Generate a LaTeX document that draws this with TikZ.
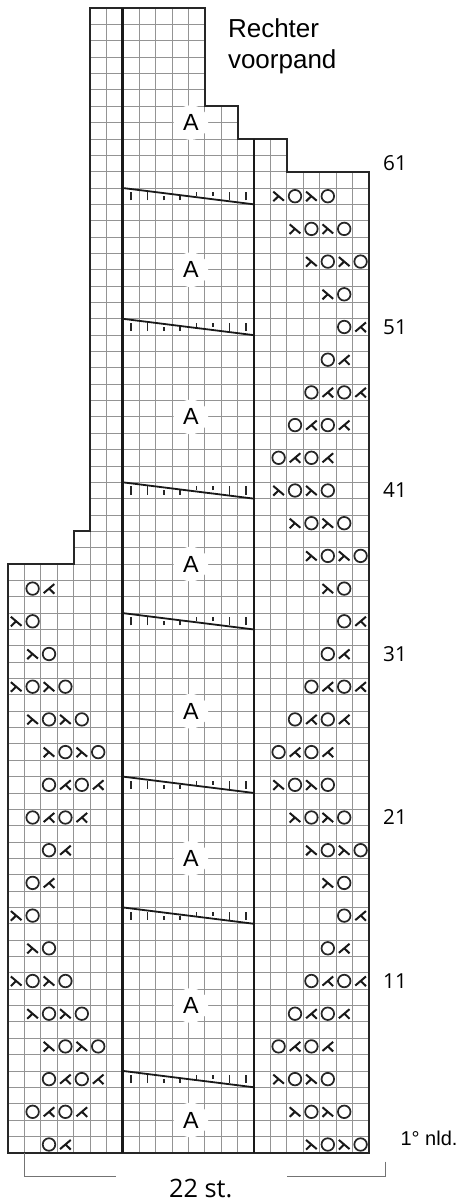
\documentclass[tikz,border=0pt]{standalone}
\usepackage{fontspec}
\setmainfont{Liberation Sans}
\newfontfamily\numfont{Open Sans}
\usepackage{tikz}

\tikzset{
    gridline/.style={draw=black!42, line width=0.65pt},
    outline/.style={draw=black!85, line width=1.35pt, line join=miter},
    heavyline/.style={draw=black!90, line width=2.1pt},
    slantline/.style={draw=black!90, line width=1.35pt},
    tickline/.style={draw=black!85, line width=1.2pt},
    bracket/.style={draw=black!55, line width=1pt},
    letterA/.style={circle, fill=white, minimum size=26pt, inner sep=0pt, font=\fontsize{17.5}{19}\selectfont},
    rowno/.style={font=\numfont\fontsize{15.5}{18}\selectfont, anchor=center},
    yo/.pic={\draw[black!85, line width=1.3pt] (0,0) circle (4.7pt);},
    kr/.pic={\draw[black!90, line width=1.5pt] (-4pt,3.4pt) -- (4pt,-3.4pt) (-4pt,-3.8pt) -- (0,0.1pt);},
    kl/.pic={\draw[black!90, line width=1.5pt] (4pt,3.4pt) -- (-4pt,-3.4pt) (4pt,-3.8pt) -- (0,0.1pt);},
}

\begin{document}
\begin{tikzpicture}[x=12.3pt, y=12.2625pt]
    \useasboundingbox (-0.488,-3.138) rectangle (27.56,70.5);

    \begin{scope}
        \clip (0,0) -- (22,0) -- (22,60) -- (17,60) -- (17,62) -- (14,62) -- (14,64) -- (12,64)
            -- (12,70) -- (5,70) -- (5,38) -- (4,38) -- (4,36) -- (0,36) -- cycle;
        \draw[gridline, step=1] (-1,-1) grid (23,71);
    \end{scope}

    \foreach \rw in {63,54,45,36,27,18,9,2}
        \node[letterA] (a\rw) at (11.15,\rw) {A};

    \draw[outline] (0,0) -- (22,0) -- (22,60) -- (17,60) -- (17,62) -- (14,62) -- (14,64) -- (12,64)
        -- (12,70) -- (5,70) -- (5,38) -- (4,38) -- (4,36) -- (0,36) -- cycle;
    \draw[heavyline] (7,0) -- (7,70);
    \draw[heavyline] (15,0) -- (15,62);

    \foreach \rw in {5,15,23,33,41,51,59} {
        \draw[slantline] (7,\rw) -- (15,\rw-1);
        \foreach \cx in {7.5,8.5,13.5,14.5}
            \draw[tickline] (\cx,\rw-.75) -- (\cx,\rw-.25);
        \foreach \cx in {9.5,10.5}
            \draw[tickline] (\cx,\rw-.75) -- (\cx,\rw-.5);
        \foreach \cx in {11.5,12.5}
            \draw[tickline] (\cx,\rw-.5) -- (\cx,\rw-.25);
    }

    \foreach \rw/\cx in {59/16,57/17,55/18,41/16,39/17,37/18,23/16,21/17,19/18,5/16,3/17,1/18,
                         7/2,9/1,11/0,25/2,27/1,29/0} {
        \pic at (\cx+.5,\rw-.5) {kr};
        \pic at (\cx+1.5,\rw-.5) {yo};
        \pic at (\cx+2.5,\rw-.5) {kr};
        \pic at (\cx+3.5,\rw-.5) {yo};
    }
    \foreach \rw/\cx in {47/18,45/17,43/16,29/18,27/17,25/16,11/18,9/17,7/16,
                         3/1,5/2,21/1,23/2} {
        \pic at (\cx+.5,\rw-.5) {yo};
        \pic at (\cx+1.5,\rw-.5) {kl};
        \pic at (\cx+2.5,\rw-.5) {yo};
        \pic at (\cx+3.5,\rw-.5) {kl};
    }
    \foreach \rw/\cx in {53/19,35/19,17/19,13/1,15/0,31/1,33/0} {
        \pic at (\cx+.5,\rw-.5) {kr};
        \pic at (\cx+1.5,\rw-.5) {yo};
    }
    \foreach \rw/\cx in {51/20,49/19,33/20,31/19,15/20,13/19,1/2,17/1,19/2,35/1} {
        \pic at (\cx+.5,\rw-.5) {yo};
        \pic at (\cx+1.5,\rw-.5) {kl};
    }

    \foreach \rw in {11,21,31,41,51,61}
        \node[rowno] (no\rw) at (23.6,\rw-.5) {\rw};

    \coordinate (L1) at (1,0); \coordinate (L2) at (1,-1.47); \coordinate (L3) at (6.6,-1.47);
    \coordinate (R1) at (23,-0.55); \coordinate (R2) at (23,-1.47); \coordinate (R3) at (17,-1.47);
    \draw[bracket] (L1) -- (L2) -- (L3);
    \draw[bracket] (R1) -- (R2) -- (R3);

    \node[font=\numfont\fontsize{19}{22}\selectfont] (width) at (11.75,-2.16) {22 st.};
    \node[font=\fontsize{15}{18}\selectfont] (firstrow) at (25.67,0.9) {1° nld.};
    \node[anchor=west, inner sep=0pt, align=left, font=\fontsize{19.5}{23.25}\selectfont] (title) at (13.4,67.68) {Rechter\\voorpand};
\end{tikzpicture}
\end{document}
